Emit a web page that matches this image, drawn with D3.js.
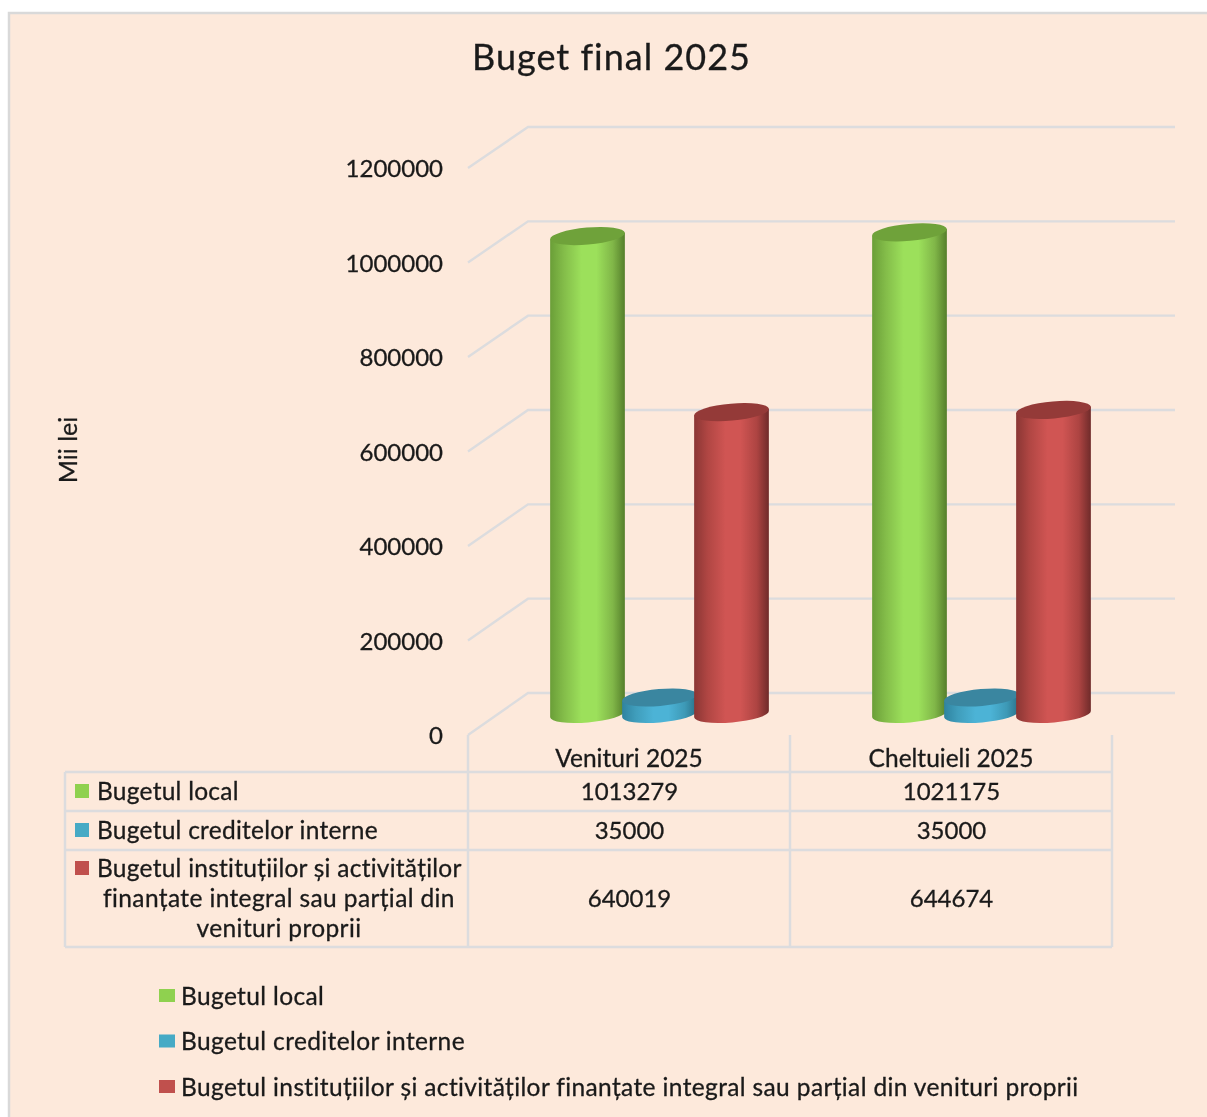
<!DOCTYPE html>
<html><head><meta charset="utf-8">
<script src="https://cdn.jsdelivr.net/npm/d3@7/dist/d3.min.js"></script>
<style>html,body{margin:0;padding:0;background:#fff;overflow:hidden}svg{display:block;filter:blur(.5px)}text{font-family:Lato,sans-serif;fill:#1a1a1a;stroke:#1a1a1a;stroke-width:.3px}</style>
</head><body><svg id="c" width="1207" height="1117"></svg>
<script>
const title = "Buget final 2025";
const yLabel = "Mii lei";
const categories = ["Venituri 2025", "Cheltuieli 2025"];
const seriesNames = ["Bugetul local", "Bugetul creditelor interne", "Bugetul instituțiilor și activităților finanțate integral sau parțial din venituri proprii"];
const tableLabelLines = [["Bugetul local"], ["Bugetul creditelor interne"], ["Bugetul instituțiilor și activităților", "finanțate integral sau parțial din", "venituri proprii"]];
const localValues = [1013279, 1021175];
const creditValues = [35000, 35000];
const instValues = [640019, 644674];
const seriesValues = [localValues, creditValues, instValues];
const tickValues = [0, 200000, 400000, 600000, 800000, 1000000, 1200000];
const swatch = ["#8fd14f", "#46aac5", "#c0504d"];
const topColor = ["#6fa23a", "#3a86a0", "#943a38"];
const gradStops = [
  ["#6a9e38", "#83bc49", "#9ce05b", "#9ce05b", "#80b648", "#557f2b"],
  ["#2f83a0", "#3f9dbb", "#4cb3d6", "#4cb3d6", "#3d99b6", "#2a7189"],
  ["#8a3634", "#b04643", "#d05553", "#d05553", "#ad4442", "#6f2b2a"]];
const gradOffsets = [0, .18, .42, .62, .84, 1];

const svg = d3.select("#c");
const W = 1207, H = 1117;
const panel = {x: 9, y: 13};
svg.append("rect").attr("x", panel.x).attr("y", panel.y).attr("width", W).attr("height", H)
  .attr("fill", "#fde9db").attr("stroke", "#d9d9d9").attr("stroke-width", 2.5);

const defs = svg.append("defs");
gradStops.forEach((s, i) => {
  const g = defs.append("linearGradient").attr("id", "g" + i).attr("x1", 0).attr("x2", 1).attr("y1", 0).attr("y2", 0);
  s.forEach((c, j) => g.append("stop").attr("offset", gradOffsets[j]).attr("stop-color", c));
});

const yBack = d3.scaleLinear().domain([0, 1200000]).range([693, 127]);
const yFront = d3.scaleLinear().domain([0, 1200000]).range([735, 168]);
const xCat = d3.scaleBand().domain(categories).range([468, 1112]);
const xSer = d3.scaleBand().domain(d3.range(3)).range([-108, 108]);
const grid = "#dcdcde";

const gl = svg.append("g").attr("fill", "none").attr("stroke", grid).attr("stroke-width", 2.4);
tickValues.forEach(v => {
  gl.append("path").attr("d", d3.line()([[468, yFront(v)], [528, yBack(v)], [1175, yBack(v)]]));
});

const axis = d3.axisLeft(yFront).tickValues(tickValues).tickSize(0).tickPadding(0).tickFormat(d3.format("d"));
const ga = svg.append("g").attr("transform", "translate(443,1)").call(axis);
ga.select(".domain").remove();
ga.selectAll("text").style("font-size", "24px").style("font-family", "Lato,sans-serif").attr("fill", "#1a1a1a");

svg.append("text").attr("transform", "translate(77,450) rotate(-90)").attr("text-anchor", "middle")
  .style("font-size", "25px").text(yLabel);
svg.append("text").attr("x", 611.5).attr("y", 70).attr("text-anchor", "middle")
  .style("font-size", "36px").style("letter-spacing", "1px").text(title);

const rx = 37.5, ry = 8.5, tilt = -5, rad = tilt * Math.PI / 180;
const ox = rx * Math.cos(rad), oy = rx * Math.sin(rad);
const baseOff = 21, depthX = 30.5;
seriesValues.forEach((vals, s) => {
  vals.forEach((v, c) => {
    const cx = xCat(categories[c]) + xCat.bandwidth() / 2 + depthX + xSer(s) + xSer.bandwidth() / 2;
    const yb = yBack(0) + baseOff, yt = yBack(v) + baseOff;
    const g = svg.append("g");
    g.append("path").attr("fill", `url(#g${s})`).attr("d",
      `M${cx - ox},${yt - oy}L${cx - ox},${yb - oy}A${rx},${ry} ${tilt} 0 0 ${cx + ox},${yb + oy}L${cx + ox},${yt + oy}Z`);
    g.append("ellipse").attr("cx", cx).attr("cy", yt).attr("rx", rx).attr("ry", ry)
      .attr("transform", `rotate(${tilt} ${cx} ${yt})`).attr("fill", topColor[s]);
  });
});

const rowEdges = [772, 811, 850, 947];
const colEdges = [65, 468, 790, 1112];
const t = svg.append("g").attr("stroke", grid).attr("stroke-width", 2.5).attr("fill", "none");
rowEdges.forEach(y => t.append("line").attr("x1", 65).attr("x2", 1112).attr("y1", y).attr("y2", y));
colEdges.forEach((x, i) => t.append("line").attr("x1", x).attr("x2", x).attr("y1", i ? 735 : 772).attr("y2", 947));

const fs = "24.5px";
categories.forEach(c => {
  svg.append("text").attr("x", xCat(c) + xCat.bandwidth() / 2).attr("y", 767).attr("text-anchor", "middle")
    .style("font-size", fs).text(c);
});
const rowMid = [791, 830, 898];
seriesValues.forEach((vals, s) => {
  vals.forEach((v, c) => {
    svg.append("text").attr("x", xCat(categories[c]) + xCat.bandwidth() / 2 + .5).attr("y", rowMid[s] + 8.5)
      .attr("text-anchor", "middle").style("font-size", "24px").text(v);
  });
});
const labelStartY = [791, 830, 868];
tableLabelLines.forEach((lines, s) => {
  svg.append("rect").attr("x", 75).attr("y", labelStartY[s] - 7).attr("width", 14).attr("height", 14).attr("fill", swatch[s]);
  lines.forEach((l, i) => {
    const st = svg.append("text").style("font-size", fs).style("letter-spacing", i ? ".38px" : ".25px")
      .attr("y", labelStartY[s] + 8.5 + i * 30).text(l);
    if (i === 0) st.attr("x", 97);
    else st.attr("x", 279).attr("text-anchor", "middle");
  });
});

const legY = d3.scalePoint().domain(d3.range(3)).range([996, 1087]);
seriesNames.forEach((n, s) => {
  svg.append("rect").attr("x", 159).attr("y", legY(s) - 7).attr("width", 16).attr("height", 13).attr("fill", swatch[s]);
  svg.append("text").attr("x", 181).attr("y", legY(s) + 8.5).style("font-size", fs).style("letter-spacing", ".37px").text(n);
});
</script></body></html>
